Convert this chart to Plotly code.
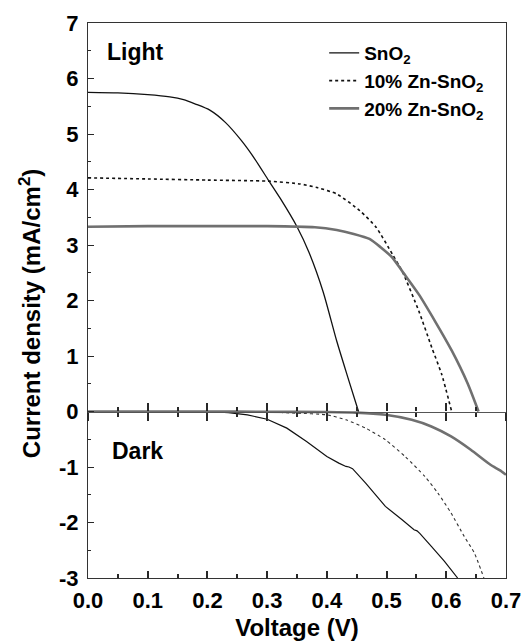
import plotly.graph_objects as go

# ---- data ----
v_sno2_light = [0, 0.05, 0.10, 0.137, 0.16, 0.18, 0.204, 0.23, 0.257, 0.28, 0.302, 0.322, 0.35, 0.37, 0.394, 0.4165, 0.435, 0.453]
j_sno2_light = [5.75, 5.74, 5.71, 5.67, 5.62, 5.54, 5.43, 5.21, 4.88, 4.54, 4.17, 3.84, 3.33, 2.87, 2.15, 1.27, 0.62, 0.0]

v_zn10_light = [0, 0.1, 0.2, 0.302, 0.355, 0.385, 0.4165, 0.455, 0.4824, 0.51, 0.526, 0.554, 0.5758, 0.5923, 0.609]
j_zn10_light = [4.21, 4.19, 4.17, 4.15, 4.10, 4.03, 3.92, 3.62, 3.32, 2.83, 2.53, 1.81, 1.15, 0.67, 0.0]

v_zn20_light = [0, 0.1, 0.2, 0.3, 0.38, 0.4165, 0.445, 0.4714, 0.49, 0.51, 0.526, 0.554, 0.581, 0.609, 0.636, 0.654]
j_zn20_light = [3.33, 3.34, 3.34, 3.34, 3.32, 3.27, 3.20, 3.11, 2.96, 2.77, 2.53, 2.11, 1.63, 1.10, 0.50, 0.0]

v_sno2_dark = [0, 0.1, 0.2, 0.235, 0.267, 0.3, 0.333, 0.366, 0.4, 0.42, 0.432, 0.437, 0.443, 0.465, 0.498, 0.526, 0.546, 0.551, 0.556, 0.575, 0.597, 0.619]
j_sno2_dark = [0, 0, 0, -0.02, -0.06, -0.14, -0.30, -0.54, -0.81, -0.93, -0.99, -1.00, -1.03, -1.29, -1.71, -1.95, -2.13, -2.15, -2.20, -2.43, -2.70, -3.0]

v_zn10_dark = [0, 0.2, 0.3, 0.35, 0.4, 0.432, 0.465, 0.498, 0.531, 0.564, 0.586, 0.608, 0.630, 0.647, 0.663]
j_zn10_dark = [0, 0, -0.01, -0.03, -0.06, -0.15, -0.30, -0.51, -0.81, -1.17, -1.47, -1.83, -2.25, -2.55, -3.0]

v_zn20_dark = [0, 0.2, 0.3, 0.4, 0.449, 0.498, 0.542, 0.575, 0.608, 0.641, 0.674, 0.69, 0.70]
j_zn20_dark = [0, 0, -0.005, -0.01, -0.02, -0.06, -0.15, -0.27, -0.45, -0.69, -0.96, -1.06, -1.14]

names = ["SnO<sub>2</sub>", "10% Zn-SnO<sub>2</sub>", "20% Zn-SnO<sub>2</sub>"]
x_ticks = [0.0, 0.1, 0.2, 0.3, 0.4, 0.5, 0.6, 0.7]
x_ticktext = ["0.0", "0.1", "0.2", "0.3", "0.4", "0.5", "0.6", "0.7"]
y_ticks = [-3, -2, -1, 0, 1, 2, 3, 4, 5, 6, 7]
y_ticktext = ["-3", "-2", "-1", "0", "1", "2", "3", "4", "5", "6", "7"]

FONT = "Liberation Sans, Arial, Helvetica, sans-serif"
TICK = "rgb(40,40,40)"
ZERO = "rgb(85,85,85)"
BLACK = "rgb(17,17,17)"
GRAY = "rgb(112,112,112)"

fig = go.Figure()

# dark curves
fig.add_trace(go.Scatter(x=v_sno2_dark, y=j_sno2_dark, mode="lines", showlegend=False,
                         line=dict(color=BLACK, width=1.2)))
fig.add_trace(go.Scatter(x=v_zn10_dark, y=j_zn10_dark, mode="lines", showlegend=False,
                         line=dict(color="rgb(51,51,51)", width=1.1, dash="dot", shape="spline", smoothing=0.6)))
fig.add_trace(go.Scatter(x=v_zn20_dark, y=j_zn20_dark, mode="lines", showlegend=False,
                         line=dict(color=GRAY, width=2.6, shape="spline", smoothing=0.6)))

# light curves
fig.add_trace(go.Scatter(x=v_sno2_light, y=j_sno2_light, mode="lines", name=names[0],
                         line=dict(color=BLACK, width=1.3, shape="spline", smoothing=0.6)))
fig.add_trace(go.Scatter(x=v_zn10_light, y=j_zn10_light, mode="lines", name=names[1],
                         line=dict(color=BLACK, width=1.6, dash="dot", shape="spline", smoothing=0.6)))
fig.add_trace(go.Scatter(x=v_zn20_light, y=j_zn20_light, mode="lines", name=names[2],
                         line=dict(color=GRAY, width=2.6, shape="spline", smoothing=0.6)))

# helper empty traces so the zero-line axes are drawn
fig.add_trace(go.Scatter(x=[], y=[], xaxis="x2", yaxis="y", showlegend=False))
fig.add_trace(go.Scatter(x=[], y=[], xaxis="x3", yaxis="y", showlegend=False))

fig.add_annotation(text="Light", x=0.028, y=6.48, xref="x", yref="y", xanchor="left", yanchor="middle",
                   showarrow=False, font=dict(size=23, family=FONT, color="black", weight="bold"))
fig.add_annotation(text="Dark", x=0.037, y=-0.71, xref="x", yref="y", xanchor="left", yanchor="middle",
                   showarrow=False, font=dict(size=23, family=FONT, color="black", weight="bold"))
fig.add_annotation(text="Current density (mA/cm<sup>2</sup>)", textangle=-90,
                   x=-0.139, y=0.477, xref="paper", yref="paper", xanchor="center", yanchor="middle",
                   showarrow=False, font=dict(size=24, family=FONT, color="black", weight="bold"))

zero_pos = (0 - (-3)) / (7 - (-3))

fig.update_layout(
    width=528, height=644,
    margin=dict(l=88, r=22, t=23, b=66),
    plot_bgcolor="white", paper_bgcolor="white",
    font=dict(family=FONT, size=22, color="black", weight="bold"),
    showlegend=True,
    xaxis=dict(range=[0, 0.7], tickvals=x_ticks, ticktext=x_ticktext, ticks="inside", ticklen=7, tickwidth=2,
               tickcolor=TICK, minor=dict(dtick=0.05, ticks="inside", ticklen=4, tickwidth=2, tickcolor=TICK),
               showline=True, linecolor="rgb(51,51,51)", linewidth=1.3, mirror=True, showgrid=False,
               zeroline=False, automargin=False, ticklabelstandoff=2,
               title=dict(text="Voltage (V)", font=dict(size=24), standoff=7)),
    xaxis2=dict(range=[0, 0.7], overlaying="x", anchor="free", position=zero_pos, side="bottom",
                tick0=0, dtick=0.1, ticks="inside", ticklen=8, tickwidth=2, tickcolor=TICK,
                minor=dict(dtick=0.05, ticks="inside", ticklen=4, tickwidth=2, tickcolor=TICK),
                showticklabels=False, showline=True, linecolor=ZERO, linewidth=1.3,
                showgrid=False, zeroline=False, automargin=False),
    xaxis3=dict(range=[0, 0.7], overlaying="x", anchor="free", position=zero_pos, side="bottom",
                tick0=0, dtick=0.1, ticks="outside", ticklen=8, tickwidth=2, tickcolor=TICK,
                minor=dict(dtick=0.05, ticks="outside", ticklen=4, tickwidth=2, tickcolor=TICK),
                showticklabels=False, showline=False, showgrid=False, zeroline=False, automargin=False),
    yaxis=dict(range=[-3, 7], tickvals=y_ticks, ticktext=y_ticktext, ticks="inside", ticklen=6, tickwidth=1,
               tickcolor=TICK, minor=dict(dtick=0.5, ticks="inside", ticklen=3, tickwidth=1, tickcolor=TICK),
               showline=True, linecolor="rgb(51,51,51)", linewidth=1.3, mirror=True, showgrid=False,
               zeroline=False, automargin=False, ticklabelstandoff=4),
    legend=dict(x=0.565, y=0.98, xanchor="left", yanchor="top", bgcolor="rgba(0,0,0,0)",
                font=dict(size=19, family=FONT, color="black", weight="bold"), tracegroupgap=0),
)

fig.write_html("out.html")
